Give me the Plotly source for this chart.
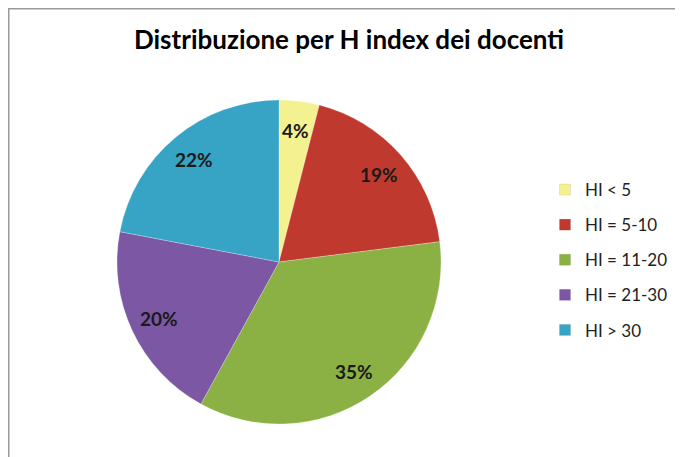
import math
import plotly.graph_objects as go

categories = ["HI < 5", "HI = 5-10", "HI = 11-20", "HI = 21-30", "HI > 30"]
values = [4, 19, 35, 20, 22]
colors = ["#F4F191", "#C0392F", "#8BB043", "#7C57A3", "#37A4C5"]

# page body adds an 8px margin, so the figure is sized/positioned accordingly
W, H = 675, 449
cx, cy, r = 271, 254, 162
label_frac = 0.82

fig = go.Figure()
fig.add_trace(go.Pie(
    labels=categories,
    values=values,
    sort=False,
    direction="clockwise",
    rotation=0,
    marker=dict(colors=colors, line=dict(color="rgba(255,255,255,0.5)", width=0.5)),
    textinfo="none",
    domain=dict(x=[(cx - r) / W, (cx + r) / W], y=[(H - cy - r) / H, (H - cy + r) / H]),
    hoverinfo="label+percent",
    showlegend=False,
))

# percentage labels placed along each slice bisector
total = sum(values)
cum = 0
annotations = []
for v in values:
    mid = (cum + v / 2) / total * 2 * math.pi
    cum += v
    px = cx + label_frac * r * math.sin(mid)
    py = cy - label_frac * r * math.cos(mid)
    annotations.append(dict(
        x=px / W, y=1 - py / H, xref="paper", yref="paper", showarrow=False,
        text="<b>%d%%</b>" % round(v / total * 100),
        font=dict(family="Lato", size=19, color="#1a1a1a"),
        xanchor="center", yanchor="middle"))

# legend entries
for name, col in zip(categories, colors):
    fig.add_trace(go.Scatter(
        x=[None], y=[None], mode="markers", name=name, legendgroup=name,
        marker=dict(symbol="square", size=11, color=col,
                    line=dict(color="rgba(0,0,0,0.15)", width=0.5)),
        showlegend=True, hoverinfo="skip"))

fig.update_layout(
    width=W, height=H,
    margin=dict(l=0, r=0, t=0, b=0),
    paper_bgcolor="white",
    plot_bgcolor="rgba(0,0,0,0)",
    xaxis=dict(visible=False), yaxis=dict(visible=False),
    title=dict(text="<b>Distribuzione per H index dei docenti</b>", x=341 / W, xanchor="center",
               y=1 - 32 / H, yanchor="middle",
               font=dict(family="Lato", size=26, color="black")),
    legend=dict(x=537 / W, xanchor="left", y=1 - 164 / H, yanchor="top",
                font=dict(family="Lato", size=17, color="#222"),
                itemwidth=30, tracegroupgap=10, traceorder="grouped"),
    annotations=annotations,
    shapes=[dict(type="rect", xref="paper", yref="paper",
                 x0=0.75 / W, x1=1.05, y0=-0.05, y1=1 - 0.75 / H,
                 line=dict(color="#9a9a9a", width=1.5), layer="below")],
)

fig.write_html("out.html")
